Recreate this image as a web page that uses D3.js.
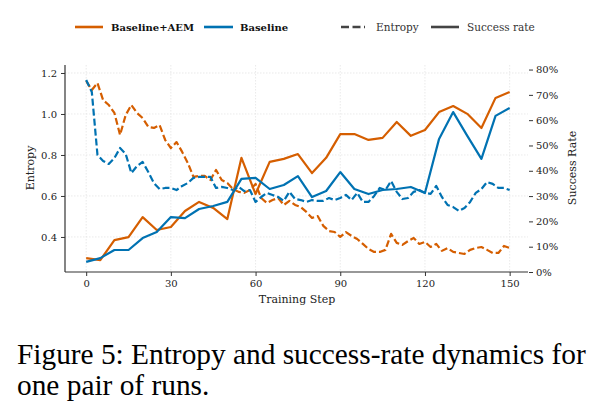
<!DOCTYPE html>
<html><head><meta charset="utf-8">
<script src="https://cdn.jsdelivr.net/npm/d3@7"></script>
<style>body{margin:0;background:#fff}svg{display:block}</style>
</head><body>
<svg id="c" width="602" height="414"></svg>
<script>
// ---- data ----
const succSteps = [0,5,10,15,20,25,30,35,40,45,50,55,60,65,70,75,80,85,90,95,100,105,110,115,120,125,130,135,140,145,150];
const succAEM = [0.055,0.047,0.126,0.138,0.217,0.166,0.178,0.241,0.277,0.253,0.209,0.451,0.308,0.435,0.447,0.466,0.391,0.451,0.545,0.545,0.522,0.530,0.593,0.538,0.561,0.632,0.656,0.625,0.569,0.688,0.711];
const succBase = [0.040,0.055,0.087,0.087,0.134,0.158,0.217,0.213,0.249,0.261,0.277,0.368,0.372,0.328,0.344,0.379,0.296,0.320,0.395,0.328,0.308,0.324,0.328,0.336,0.312,0.526,0.632,0.538,0.447,0.617,0.648];
const entSteps = [0,2,4,6,8,10,12,14,16,18,20,22,24,26,28,30,32,34,36,38,40,42,44,46,48,50,52,54,56,58,60,62,64,66,68,70,72,74,76,78,80,82,84,86,88,90,92,94,96,98,100,102,104,106,108,110,112,114,116,118,120,122,124,126,128,130,132,134,136,138,140,142,144,146,148,150];
const entAEM = [1.161,1.117,1.151,1.068,1.044,1.005,0.898,0.995,1.044,1.005,0.980,0.937,0.932,0.946,0.873,0.834,0.863,0.815,0.761,0.693,0.698,0.698,0.678,0.727,0.678,0.663,0.634,0.620,0.615,0.629,0.659,0.590,0.566,0.580,0.590,0.556,0.576,0.556,0.546,0.522,0.493,0.502,0.454,0.429,0.424,0.400,0.424,0.405,0.390,0.366,0.341,0.327,0.327,0.337,0.415,0.371,0.361,0.380,0.395,0.366,0.376,0.351,0.366,0.332,0.346,0.327,0.322,0.317,0.337,0.346,0.351,0.337,0.322,0.322,0.356,0.346];
const entBase = [1.166,1.107,0.800,0.771,0.756,0.785,0.834,0.805,0.712,0.746,0.766,0.717,0.663,0.634,0.639,0.639,0.629,0.649,0.663,0.688,0.693,0.693,0.693,0.639,0.644,0.639,0.629,0.644,0.624,0.629,0.571,0.595,0.615,0.605,0.595,0.576,0.620,0.585,0.580,0.571,0.580,0.576,0.576,0.590,0.580,0.590,0.605,0.580,0.615,0.571,0.571,0.600,0.639,0.629,0.673,0.620,0.585,0.590,0.620,0.629,0.615,0.610,0.649,0.595,0.556,0.546,0.527,0.541,0.571,0.615,0.634,0.668,0.659,0.639,0.639,0.629];
const xTicks = [0,30,60,90,120,150];
const yLTicks = [0.4,0.6,0.8,1.0,1.2];
const yRTicks = [0,0.1,0.2,0.3,0.4,0.5,0.6,0.7,0.8];
const seriesNames = ["Baseline+AEM","Baseline"];
const styleNames = ["Entropy","Success rate"];
const colors = ["#d55e00","#0072b2"];
const captionLines = ["Figure 5: Entropy and success-rate dynamics for","one pair of runs."];

// ---- layout ----
const L = 65, R = 528, T = 65, B = 272;
const svg = d3.select("#c");
const x = d3.scaleLinear().domain([-7.5,156.5]).range([L,R]);
const yL = d3.scaleLinear().domain([0.229,1.239]).range([B,T]);
const yR = d3.scaleLinear().domain([0,0.818]).range([B,T]);
const font = "'DejaVu Serif', serif";

// grid
const g = svg.append("g");
g.selectAll(".gx").data(xTicks).join("line")
  .attr("x1",d=>x(d)).attr("x2",d=>x(d)).attr("y1",T).attr("y2",B)
  .attr("stroke","#e4e4e4").attr("stroke-width",0.8).attr("stroke-dasharray","1.5,1.5");
g.selectAll(".gy").data(yLTicks).join("line")
  .attr("x1",L).attr("x2",R).attr("y1",d=>yL(d)).attr("y2",d=>yL(d))
  .attr("stroke","#e4e4e4").attr("stroke-width",0.8).attr("stroke-dasharray","1.5,1.5");

// lines
const lineE = d3.line().x((d,i)=>x(entSteps[i])).y(d=>yL(d));
const lineS = d3.line().x((d,i)=>x(succSteps[i])).y(d=>yR(d));
[entAEM, entBase].forEach((s,k)=>{
  svg.append("path").attr("d",lineE(s)).attr("fill","none").attr("stroke",colors[k])
    .attr("stroke-width",2.2).attr("stroke-dasharray","7,3").attr("stroke-linejoin","round");
});
[succAEM, succBase].forEach((s,k)=>{
  svg.append("path").attr("d",lineS(s)).attr("fill","none").attr("stroke",colors[k])
    .attr("stroke-width",2.2).attr("stroke-linejoin","round");
});

// axes
const ax = svg.append("g").attr("transform",`translate(0,${B})`)
  .call(d3.axisBottom(x).tickValues(xTicks).tickSize(4).tickPadding(4));
const ayl = svg.append("g").attr("transform",`translate(${L},0)`)
  .call(d3.axisLeft(yL).tickValues(yLTicks).tickFormat(d3.format(".1f")).tickSize(4).tickPadding(4));
const ayr = svg.append("g").attr("transform",`translate(${R+1},0)`)
  .call(d3.axisRight(yR).tickValues(yRTicks).tickFormat(d3.format(".0%")).tickSize(4).tickPadding(3));
[ax,ayl,ayr].forEach(a=>{
  a.selectAll("text").attr("font-family",font).attr("font-size",10).attr("fill","#222");
  a.selectAll("line").attr("stroke","#333");
});
ax.select(".domain").attr("d",`M0,0H${R-L}`).attr("transform",`translate(${L},0)`).attr("stroke","#333").attr("stroke-width",1.2);
ayl.select(".domain").attr("d",`M0,${T}V${B}`).attr("stroke","#333").attr("stroke-width",1.2);
ayr.select(".domain").remove();

// axis labels
svg.append("text").attr("x",297).attr("y",303).attr("text-anchor","middle")
  .attr("font-family",font).attr("font-size",11).attr("fill","#222").text("Training Step");
svg.append("text").attr("transform","translate(34,168) rotate(-90)").attr("text-anchor","middle")
  .attr("font-family",font).attr("font-size",11).attr("fill","#222").text("Entropy");
svg.append("text").attr("transform","translate(576,168) rotate(-90)").attr("text-anchor","middle")
  .attr("font-family",font).attr("font-size",11).attr("fill","#222").text("Success Rate");

// legend
const leg = svg.append("g");
const ly = 27;
const items = [
  {x1:75,x2:103,tx:111,color:colors[0],dash:null,label:seriesNames[0],bold:true},
  {x1:204,x2:233,tx:240,color:colors[1],dash:null,label:seriesNames[1],bold:true},
  {x1:341,x2:365,tx:376,color:"#444",dash:"8,3.5",label:styleNames[0],bold:false},
  {x1:431,x2:459,tx:467,color:"#444",dash:null,label:styleNames[1],bold:false}
];
items.forEach(it=>{
  leg.append("line").attr("x1",it.x1).attr("x2",it.x2).attr("y1",ly).attr("y2",ly)
    .attr("stroke",it.color).attr("stroke-width",2.6).attr("stroke-dasharray",it.dash);
  leg.append("text").attr("x",it.tx).attr("y",ly+3.8).attr("font-family",font)
    .attr("font-size",it.bold?10:10.5).attr("font-weight",it.bold?"bold":"normal")
    .attr("fill",it.bold?"#111":"#333").text(it.label);
});

// caption: fit first line to the text block width
const cap = svg.append("g");
const capTexts = captionLines.map((t,i)=>cap.append("text").attr("x",17).attr("y",364+i*31)
    .attr("font-family","'Liberation Serif','Times New Roman',serif").attr("font-size",27.5)
    .attr("fill","#000").text(t));
const w0 = capTexts[0].node().getComputedTextLength();
const fs = 27.5 * 569 / w0;
capTexts.forEach(t=>t.attr("font-size",fs));
</script>
</body></html>
